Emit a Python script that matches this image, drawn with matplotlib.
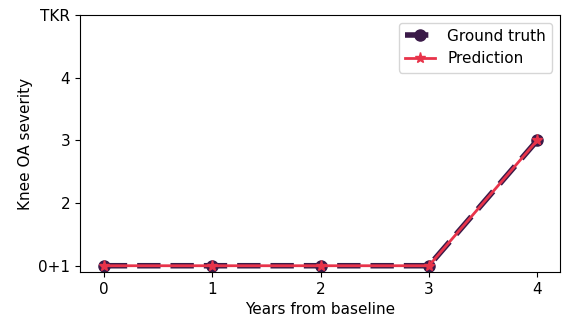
import matplotlib
matplotlib.use("Agg")
import matplotlib.pyplot as plt

years = [0, 1, 2, 3, 4]
ground_truth = [0, 0, 0, 0, 2]
prediction = [0, 0, 0, 0, 2]
ytick_vals = [0, 1, 2, 3, 4]
ytick_labels = ["0+1", "2", "3", "4", "TKR"]

fig = plt.figure(figsize=(5.62, 3.24), dpi=100)
ax = fig.add_axes([80/562, 1-272/324, 480/562, (272-15)/324])
ax.plot(years, ground_truth, color="#3a1a48", linestyle=(0, (4.2, 1.8)), linewidth=4,
        marker="o", markersize=8, label="Ground truth")
ax.plot(years, prediction, color="#e8334a", linestyle="-", linewidth=2,
        marker="*", markersize=8, label="Prediction")
ax.set_xlim(-0.22, 4.21)
ax.set_ylim(-0.1, 4)
ax.set_xticks(years)
ax.set_yticks(ytick_vals)
ax.set_yticklabels(ytick_labels)
ax.tick_params(labelsize=11)
ax.set_xlabel("Years from baseline", fontsize=11)
ax.set_ylabel("Knee OA severity", fontsize=11)
ax.legend(fontsize=11, loc="upper right")
fig.savefig("out.png", dpi=100)
